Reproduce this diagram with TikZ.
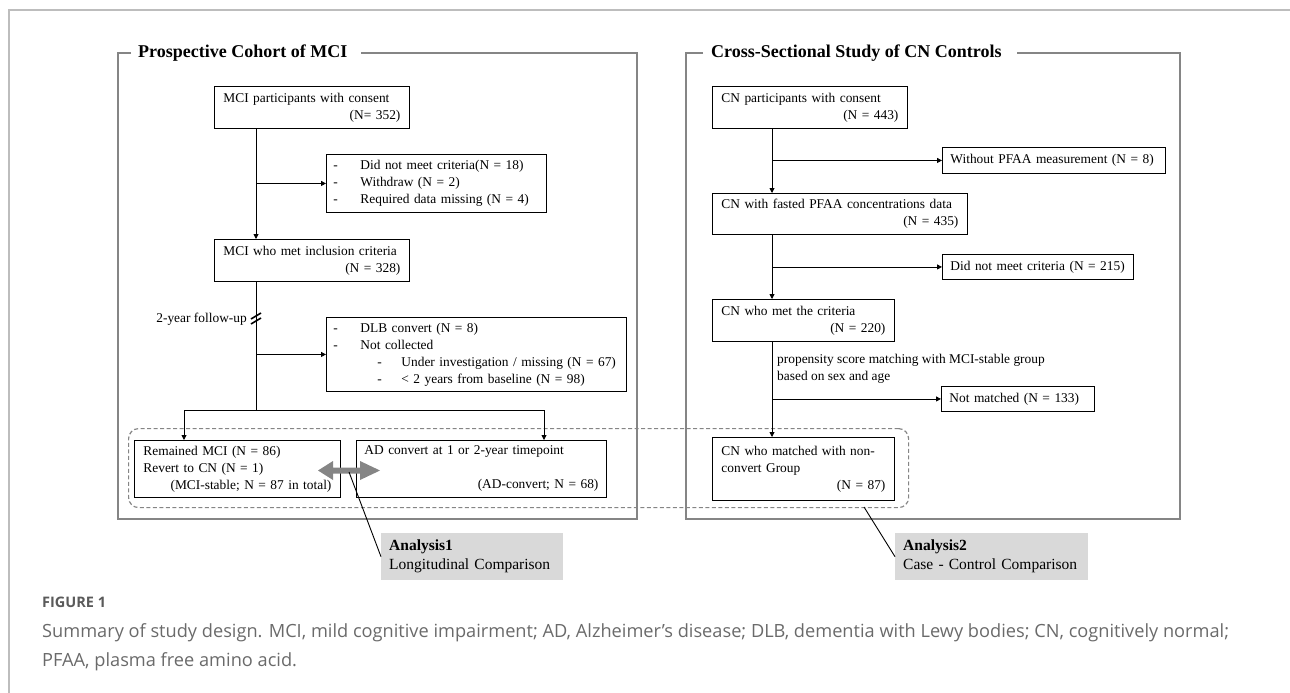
\documentclass[tikz,border=0pt]{standalone}
\usepackage{fontspec}
\setmainfont{Liberation Serif}
\newfontfamily\capfont{Open Sans}
\usetikzlibrary{arrows.meta,calc}
\definecolor{frameg}{HTML}{858585}
\definecolor{outerg}{HTML}{BDBDBD}
\definecolor{capg}{HTML}{6A6A6A}
\definecolor{figg}{HTML}{5A5A5A}
\definecolor{anag}{HTML}{D9D9D9}
\newcommand{\boxfont}{\fontsize{13.4}{17}\selectfont}
\newcommand{\dashitem}[1]{\makebox[27pt][l]{-}#1}
\newcommand{\subdashitem}[1]{\hspace*{44pt}\makebox[24pt][l]{-}#1}
\newcommand{\rline}[1]{\mbox{}\hfill#1}
\begin{document}
\begin{tikzpicture}[x=1pt,y=-1pt,
  panel/.style={draw=frameg, line width=2.8pt},
  title/.style={font=\fontsize{18}{20}\selectfont\bfseries, inner sep=0pt, anchor=west},
  box/.style={draw=black, line width=0.9pt, inner xsep=9pt, inner ysep=0pt, align=left, font=\boxfont, anchor=north west},
  arr/.style={line width=0.9pt, -{Triangle[length=5pt,width=5pt]}},
  ln/.style={line width=0.9pt},
  dashbox/.style={draw=frameg, line width=1.2pt, dash pattern=on 4pt off 2.5pt, rounded corners=10pt, anchor=north west, inner sep=0pt},
  anabox/.style={fill=anag, inner xsep=8pt, inner ysep=0pt, align=left, anchor=north west, font=\fontsize{15.5}{19}\selectfont},
  plain/.style={font=\boxfont, inner sep=0pt, align=left},
  captext/.style={font=\capfont\fontsize{18.2}{21}\selectfont, text=capg, inner sep=0pt, anchor=west}
]
\useasboundingbox (0,0) rectangle (1290,693);
% outer frame
\draw[outerg, line width=1.2pt] (9,693) -- (9,10) -- (1290,10);

% ---- left panel
\node[title] (t1) at (138,53) {Prospective Cohort of MCI};
\draw[panel] (131,53) -- (118,53) -- (118,519) -- (637,519) -- (637,53) -- ($(t1.east)+(13,0)$);

% ---- right panel
\node[title] (t2) at (711,53) {Cross-Sectional Study of CN Controls};
\draw[panel] (703,53) -- (686,53) -- (686,519) -- (1180,519) -- (1180,53) -- ($(t2.east)+(15,0)$);

% dashed grouping
\node[dashbox, minimum width=780pt, minimum height=79pt] (dsh) at (128,428) {};

% left boxes
\node[box, minimum width=195pt, minimum height=42pt, text width=177pt] (b1) at (214,86)
  {MCI participants with consent\\\rline{(N= 352)}};
\node[box, inner xsep=7pt, minimum width=220pt, minimum height=58pt, text width=206pt] (e1) at (326,154)
  {\dashitem{Did not meet criteria(N = 18)}\\\dashitem{Withdraw (N = 2)}\\\dashitem{Required data missing (N = 4)}};
\node[box, minimum width=195pt, minimum height=42pt, text width=177pt] (b2) at (214,239)
  {MCI who met inclusion criteria\\\rline{(N = 328)}};
\node[box, inner xsep=7pt, minimum width=300pt, minimum height=74pt, text width=286pt] (e2) at (326,317)
  {\dashitem{DLB convert (N = 8)}\\\dashitem{Not collected}\\\subdashitem{Under investigation / missing (N = 67)}\\\subdashitem{\textless{} 2 years from baseline (N = 98)}};
\node[box, minimum width=206pt, minimum height=57pt, text width=188pt] (r1) at (134,440)
  {Remained MCI (N = 86)\\Revert to CN (N = 1)\\\rline{(MCI-stable; N = 87 in total)}};
\node[box, inner xsep=8pt, minimum width=250pt, minimum height=57pt, text width=234pt] (r2) at (356,440)
  {AD convert at 1 or 2-year timepoint\\\mbox{}\\\rline{(AD-convert; N = 68)}};
\node[plain, anchor=east] (fu) at (247,319) {2-year follow-up};

% left connectors
\coordinate (Lx) at (256,0);
\coordinate (split) at (256,410);
\coordinate (sL) at (184,410);
\coordinate (sR) at (544,410);
\draw[arr] (b1.south -| Lx) -- (b2.north -| Lx);
\draw[arr] (e1.west -| Lx) -- (e1.west);
\draw[ln] (b2.south -| Lx) -- (split);
\draw[arr] (e2.west -| Lx) -- (e2.west);
\draw[ln] (sL) -- (sR);
\draw[arr] (sL) -- (r1.north -| sL);
\draw[arr] (sR) -- (r2.north -| sR);
% break mark
\draw[line width=1.6pt] (251,319) -- (261,313);
\draw[line width=1.6pt] (251,324) -- (261,318);

% right boxes
\node[box, minimum width=195pt, minimum height=42pt, text width=177pt] (c1) at (712,86)
  {CN participants with consent\\\rline{(N = 443)}};
\node[box, inner xsep=8pt, minimum width=223pt, minimum height=26pt, text width=207pt] (xa) at (942,147)
  {Without PFAA measurement (N = 8)};
\node[box, minimum width=255pt, minimum height=41pt, text width=237pt] (c2) at (712,193)
  {CN with fasted PFAA concentrations data\\\rline{(N = 435)}};
\node[box, inner xsep=8pt, minimum width=191pt, minimum height=25pt, text width=175pt] (xb) at (942,254)
  {Did not meet criteria (N = 215)};
\node[box, minimum width=182pt, minimum height=42pt, text width=164pt] (c3) at (712,299)
  {CN who met the criteria\\\rline{(N = 220)}};
\node[plain, anchor=west] (ps) at (777,368.5)
  {propensity score matching with MCI-stable group\\based on sex and age};
\node[box, inner xsep=8pt, minimum width=153pt, minimum height=25pt, text width=137pt] (xc) at (941,386)
  {Not matched (N = 133)};
\node[box, minimum width=182pt, minimum height=63pt, text width=164pt] (c4) at (712,437)
  {CN who matched with non-\\convert Group\\\rline{(N = 87)}};

% right connectors
\coordinate (Rx) at (772,0);
\draw[arr] (c1.south -| Rx) -- (c2.north -| Rx);
\draw[arr] (xa.west -| Rx) -- (xa.west);
\draw[arr] (c2.south -| Rx) -- (c3.north -| Rx);
\draw[arr] (xb.west -| Rx) -- (xb.west);
\draw[arr] (c3.south -| Rx) -- (c4.north -| Rx);
\draw[arr] (xc.west -| Rx) -- (xc.west);

% double arrow
\coordinate (dbl) at (349,472);
\fill[frameg] (318,470.5) -- (333,461) -- (333,467.5) -- (360,467.5) -- (360,461) -- (380,470.5)
  -- (360,480) -- (360,473.5) -- (333,473.5) -- (333,480) -- cycle;

% analysis boxes
\node[anabox, minimum width=182pt, minimum height=47pt, text width=166pt] (a1) at (381,533)
  {\textbf{Analysis1}\\Longitudinal Comparison};
\node[anabox, minimum width=193pt, minimum height=47pt, text width=177pt] (a2) at (895,533)
  {\textbf{Analysis2}\\Case - Control Comparison};
\coordinate (a2s) at (864,507);
\draw[ln] (dbl) -- (a1.west);
\draw[ln] (a2s) -- (a2.west);

% caption
\node[captext, font=\capfont\bfseries\fontsize{14.5}{17}\selectfont, text=figg] (fig) at (42,602) {FIGURE 1};
\node[captext] (cap1) at (42,633) {Summary of study design. MCI, mild cognitive impairment; AD, Alzheimer’s disease; DLB, dementia with Lewy bodies; CN, cognitively normal;};
\node[captext] (cap2) at (42,662) {PFAA, plasma free amino acid.};
\end{tikzpicture}
\end{document}
